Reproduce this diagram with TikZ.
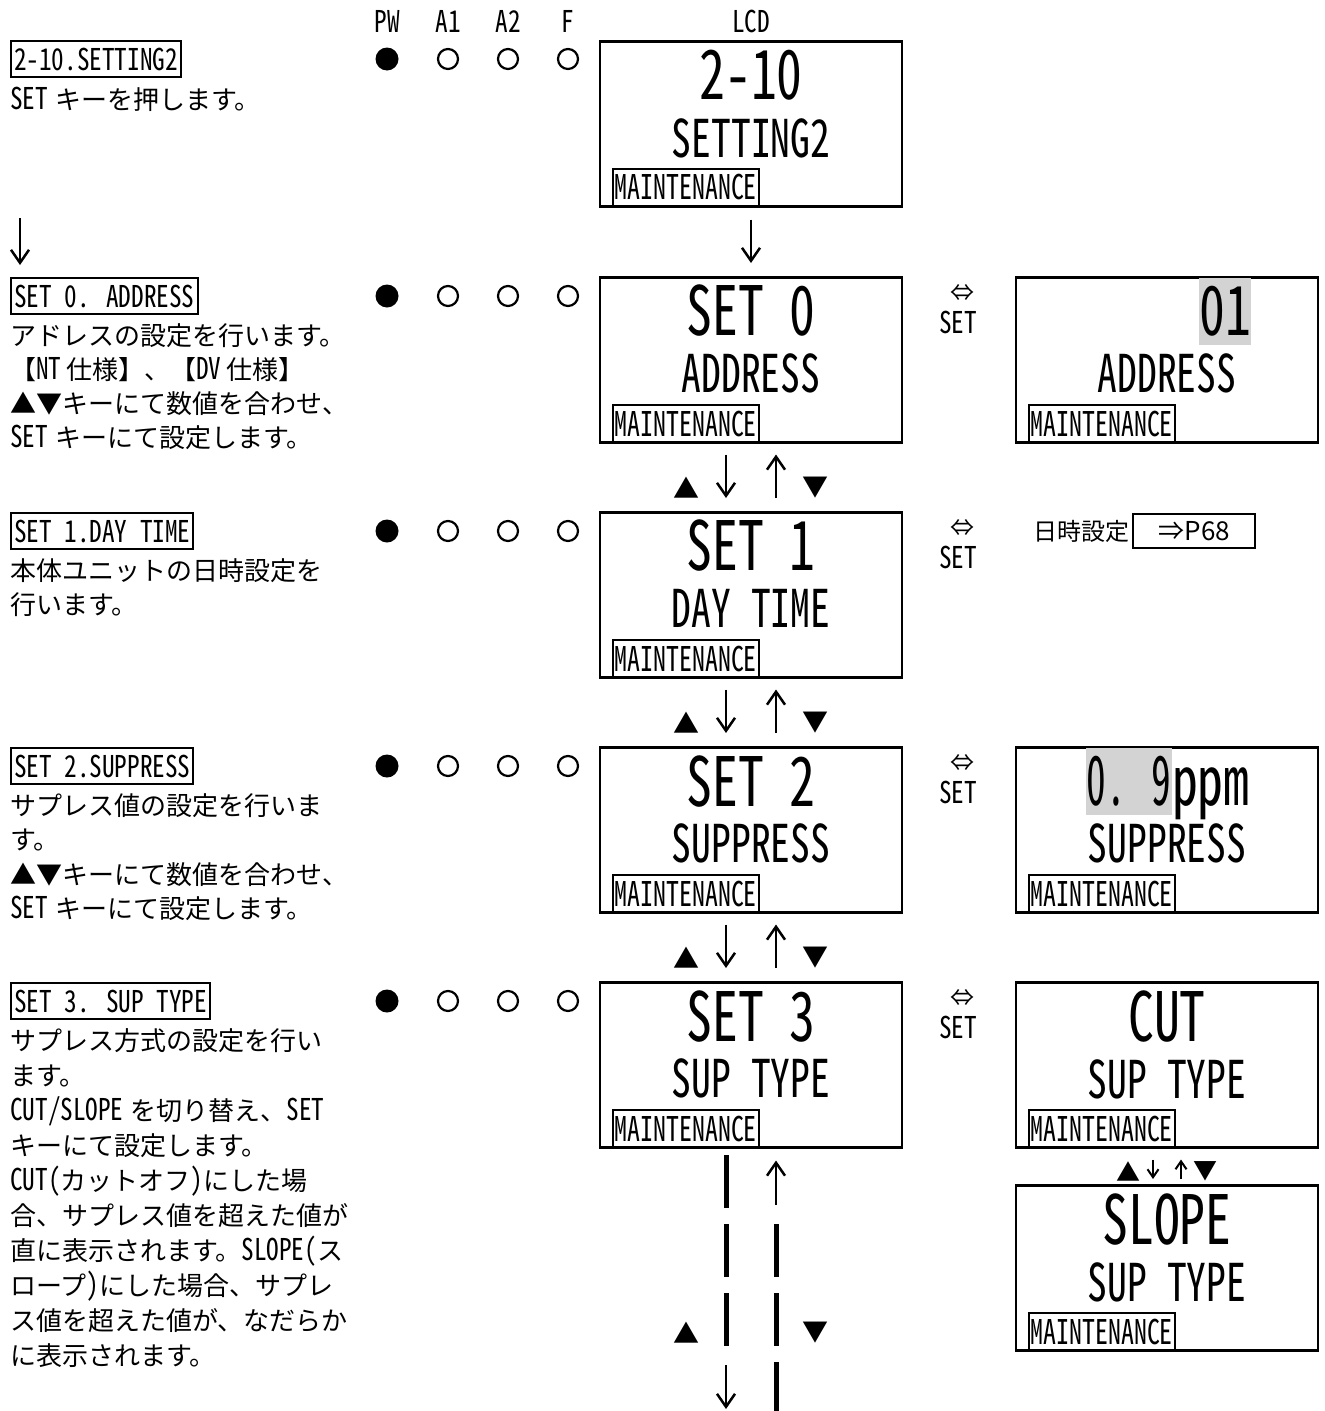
\documentclass[tikz,border=0pt]{standalone}
\usepackage{fontspec}
\setmainfont{Noto Sans CJK JP}
\newfontfamily\hw[RawFeature=+hwid, FakeStretch=0.84]{Noto Sans CJK JP}
\newfontfamily\lcdf[RawFeature=+hwid, FakeStretch=0.76]{Noto Sans CJK JP}
\newfontfamily\lcdn[RawFeature=+hwid, FakeStretch=0.58]{Noto Sans CJK JP}
\usetikzlibrary{positioning,arrows.meta}
\definecolor{hlgray}{RGB}{211,211,211}
\newcommand{\hwt}[1]{{\hw\fontsize{30}{34}\selectfont #1}}

\begin{document}
\begin{tikzpicture}[x=1pt, y=-1pt,
  jp/.style={anchor=west, inner sep=0pt, text height=22pt, text depth=4pt, font=\fontsize{26}{30}\selectfont},
  lbl/.style={draw, line width=2pt, anchor=west, inner xsep=3pt, inner ysep=0pt, minimum height=36pt, font=\hw\fontsize{30}{34}\selectfont},
  hdr/.style={inner sep=0pt, font=\hw\fontsize{30}{34}\selectfont},
  lcd/.style={draw, line width=2.5pt, minimum width=302pt, minimum height=165pt, inner sep=0pt, anchor=north},
  big/.style={inner sep=0pt, font=\lcdf\fontsize{68}{70}\selectfont},
  bign/.style={inner sep=0pt, font=\lcdn\fontsize{68}{70}\selectfont},
  mid/.style={inner sep=0pt, font=\lcdf\fontsize{52}{56}\selectfont},
  maint/.style={draw, line width=2pt, anchor=south west, inner xsep=2pt, inner ysep=0pt, minimum height=38pt, font=\lcdf\fontsize{34}{38}\selectfont},
  ledon/.style={circle, fill=black, minimum size=23pt, inner sep=0pt},
  ledoff/.style={circle, draw, line width=2.2pt, minimum size=20pt, inner sep=0pt},
  tri/.style={inner sep=0pt, font=\fontsize{26}{28}\selectfont},
  stri/.style={inner sep=0pt, font=\fontsize{24}{26}\selectfont},
  flow/.style={line width=2.5pt, -{Straight Barb[length=13pt, width=18pt]}},
  sflow/.style={line width=2pt, -{Straight Barb[length=8pt, width=11pt]}},
  dline/.style={line width=5pt, dash pattern=on 53pt off 16pt}]
  \useasboundingbox (0,0) rectangle (1325,1411);

  % LED header and LCD title
  \node[hdr] (hpw) at (387,21) {PW};
  \node[hdr] (ha1) at (448,21) {A1};
  \node[hdr] (ha2) at (508,21) {A2};
  \node[hdr] (hf)  at (568,21) {F};
  \node[hdr] (hlcd) at (751,21) {LCD};

  % LED rows: PW on, others off
  \foreach \r/\yy in {0/59,1/296,2/531,3/766,4/1001} {
    \node[ledon]  (pw\r) at (387,\yy) {};
    \node[ledoff] (aa\r) at (448,\yy) {};
    \node[ledoff] (ab\r) at (508,\yy) {};
    \node[ledoff] (ff\r) at (568,\yy) {};
  }

  % left column: titles and notes
  \node[lbl] (t0) at (10,59)   {2-10.SETTING2};
  \node[jp]  (d0-0) at (10,100) {\hwt{SET}\hspace{7pt}キーを押します。};
  \coordinate (la0) at (20,218);
  \coordinate (la1) at (20,265);
  \draw[flow] (la0) -- (la1);

  \node[lbl] (t1) at (10,296)  {SET 0. ADDRESS};
  \foreach \t [count=\i from 0] in {{アドレスの設定を行います。},
      {【\hwt{NT}\hspace{5pt}仕様】、【\hwt{DV}\hspace{5pt}仕様】},
      {▲▼キーにて数値を合わせ、},
      {\hwt{SET}\hspace{7pt}キーにて設定します。}}
    \node[jp] (d1-\i) at (10,336+34*\i) {\t};

  \node[lbl] (t2) at (10,531)  {SET 1.DAY TIME};
  \foreach \t [count=\i from 0] in {{本体ユニットの日時設定を}, {行います。}}
    \node[jp] (d2-\i) at (10,571+34*\i) {\t};

  \node[lbl] (t3) at (10,766)  {SET 2.SUPPRESS};
  \foreach \t [count=\i from 0] in {{サプレス値の設定を行いま}, {す。},
      {▲▼キーにて数値を合わせ、},
      {\hwt{SET}\hspace{7pt}キーにて設定します。}}
    \node[jp] (d3-\i) at (10,806+34.5*\i) {\t};

  \node[lbl] (t4) at (10,1001) {SET 3. SUP TYPE};
  \foreach \t [count=\i from 0] in {{サプレス方式の設定を行い}, {ます。},
      {\hwt{CUT/SLOPE}\hspace{7pt}を切り替え、\hwt{SET}},
      {キーにて設定します。},
      {\hwt{CUT(}カットオフ\hwt{)}にした場},
      {合、サプレス値を超えた値が},
      {直に表示されます。\hwt{SLOPE(}ス},
      {ロープ\hwt{)}にした場合、サプレ},
      {ス値を超えた値が、なだらか},
      {に表示されます。}}
    \node[jp] (d4-\i) at (10,1041+35*\i) {\t};

  % LCD column
  \node[lcd] (lcd0) at (751,40) {};
  \node[big] (lcd0a) at (751,75) {2-10};
  \node[mid] (lcd0b) at (751,138) {SETTING2};
  \node[maint] (lcd0m) at ([xshift=13pt]lcd0.south west) {MAINTENANCE};

  \foreach \nm/\yy/\la/\lb in {s0/276/{SET 0}/ADDRESS, s1/511/{SET 1}/{DAY TIME},
      s2/746/{SET 2}/SUPPRESS, s3/981/{SET 3}/{SUP TYPE}} {
    \node[lcd] (\nm) at (751,\yy) {};
    \node[big] (\nm a) at (751,\yy+35) {\la};
    \node[mid] (\nm b) at (751,\yy+97) {\lb};
    \node[maint] (\nm m) at ([xshift=13pt]\nm.south west) {MAINTENANCE};
  }
  \draw[flow, shorten <=12pt, shorten >=13pt] (lcd0.south) -- (s0.north);

  % up/down keys between screens
  \foreach \a/\b in {s0/s1,s1/s2,s2/s3} {
    \draw[flow, shorten <=11pt, shorten >=13pt] ([xshift=-25pt]\a.south) -- ([xshift=-25pt]\b.north);
    \draw[flow, shorten <=13pt, shorten >=11pt] ([xshift=25pt]\b.north) -- ([xshift=25pt]\a.south);
    \node[tri] (ku\a) at ([xshift=-65pt,yshift=-44pt]\a.south) {▲};
    \node[tri] (kd\a) at ([xshift=64pt,yshift=-44pt]\a.south) {▼};
  }

  % SET toggles
  \foreach \yy in {296,531,766,1001} {
    \node[inner sep=0pt, font=\fontsize{24}{26}\selectfont] (sw\yy) at (962,\yy-3) {⇔};
    \node[hdr] (sk\yy) at (958,\yy+26) {SET};
  }

  % right column
  \node[lcd] (ra) at (1167,276) {};
  \node[big, fill=hlgray, minimum height=67pt] (raa) at (1225,311.5) {01};
  \node[mid] (rab) at (1167,373) {ADDRESS};
  \node[maint] (ram) at ([xshift=13pt]ra.south west) {MAINTENANCE};

  \node[jp, font=\fontsize{24}{28}\selectfont] (dt) at (1033,531) {日時設定};
  \node[draw, line width=2pt, anchor=west, minimum width=122pt, minimum height=34pt, inner sep=0pt,
    font=\fontsize{26}{28}\selectfont] (p68) at ([xshift=3pt]dt.east) {⇒P68};

  \node[lcd] (rs) at (1167,746) {};
  \node[bign, fill=hlgray, minimum height=67pt] (rsa) at (1129,781.5) {0. 9};
  \node[big, anchor=base west] (rsp) at (rsa.base east) {ppm};
  \node[mid] (rsb) at (1167,843) {SUPPRESS};
  \node[maint] (rsm) at ([xshift=13pt]rs.south west) {MAINTENANCE};

  \node[lcd] (rc) at (1167,981) {};
  \node[big] (rca) at (1167,1016) {CUT};
  \node[mid] (rcb) at (1167,1079) {SUP TYPE};
  \node[maint] (rcm) at ([xshift=13pt]rc.south west) {MAINTENANCE};

  \node[lcd] (rl) at (1167,1184) {};
  \node[big] (rla) at (1167,1219) {SLOPE};
  \node[mid] (rlb) at (1167,1282) {SUP TYPE};
  \node[maint] (rlm) at ([xshift=13pt]rl.south west) {MAINTENANCE};

  \draw[sflow, shorten <=11pt, shorten >=5pt] ([xshift=-14pt]rc.south) -- ([xshift=-14pt]rl.north);
  \draw[sflow, shorten <=5pt, shorten >=11pt] ([xshift=14pt]rl.north) -- ([xshift=14pt]rc.south);
  \node[stri] (kuc) at ([xshift=-39pt,yshift=-23pt]rc.south) {▲};
  \node[stri] (kdc) at ([xshift=38pt,yshift=-23pt]rc.south) {▼};

  % continuation below SET 3
  \coordinate (dl0) at (726,1155);
  \coordinate (dl1) at (726,1347);
  \coordinate (al0) at (726,1365);
  \coordinate (al1) at (726,1409);
  \coordinate (ar0) at (776,1205);
  \coordinate (dr0) at (776,1224);
  \coordinate (dr1) at (776,1411);
  \draw[dline] (dl0) -- (dl1);
  \draw[flow] (al0) -- (al1);
  \draw[flow, shorten >=12pt] (ar0) -- ([xshift=25pt]s3.south);
  \draw[dline] (dr0) -- (dr1);
  \node[tri] (kus3) at ([xshift=-65pt,yshift=-184pt]s3.south) {▲};
  \node[tri] (kds3) at ([xshift=64pt,yshift=-184pt]s3.south) {▼};
\end{tikzpicture}
\end{document}
